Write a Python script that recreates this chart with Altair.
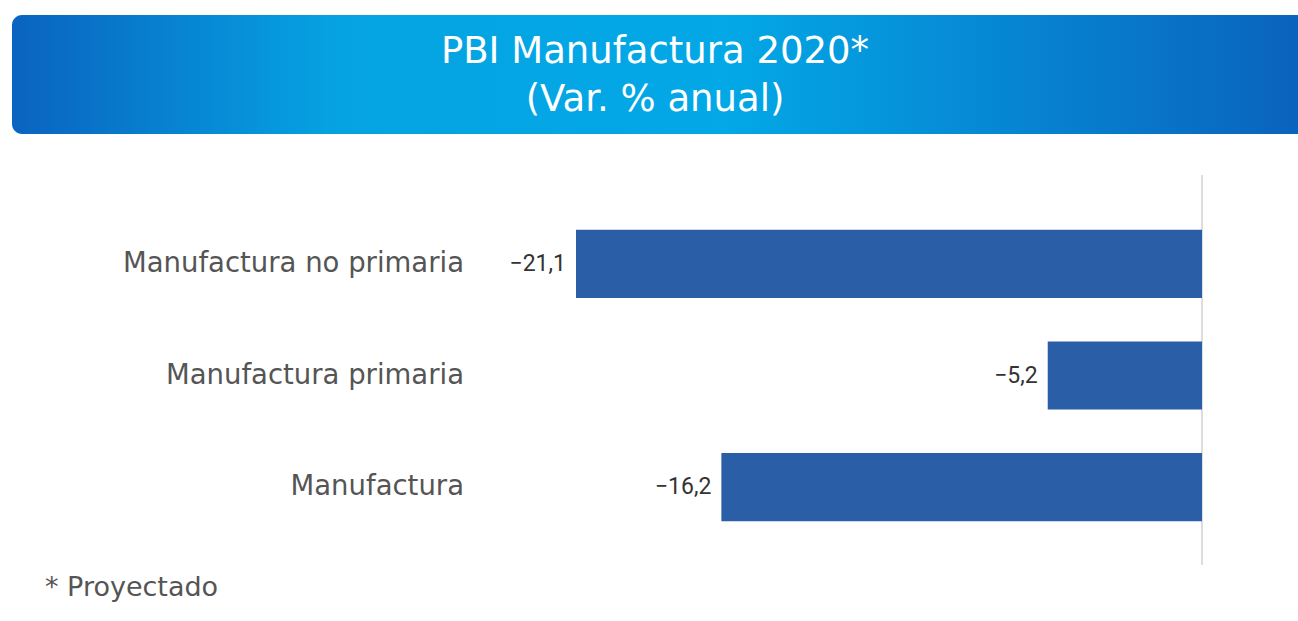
import altair as alt
import pandas as pd

categories = ["Manufactura no primaria", "Manufactura primaria", "Manufactura"]
values = [-21.1, -5.2, -16.2]
title_lines = ["PBI Manufactura 2020*", "(Var. % anual)"]
footnote = "* Proyectado"

df = pd.DataFrame({"cat": categories, "v": values})

FONT = "DejaVu Sans"
BAR = "#2a5fa8"

xs = alt.Scale(domain=[-21.1, 0], range=[576, 1202], nice=False, zero=False)
ys = alt.Scale(domain=categories, range=[208, 543], paddingInner=0.39, paddingOuter=0.195)

base = alt.Chart(df)

bars = base.mark_bar(color=BAR).encode(
    x=alt.X("v:Q", scale=xs, axis=None),
    x2=alt.datum(0),
    y=alt.Y("cat:N", scale=ys, axis=None, sort=categories),
)

vals = base.transform_calculate(
    lab="replace(format(datum.v, '.1f'), '.', ',')"
).mark_text(align="right", baseline="middle", dx=-10, font="Roboto", fontSize=23, color="#333333").encode(
    x=alt.X("v:Q", scale=xs, axis=None),
    y=alt.Y("cat:N", scale=ys, sort=categories, axis=None),
    text="lab:N",
)

cats = base.mark_text(align="right", baseline="middle", font=FONT, fontSize=27.5, color="#555555").encode(
    x=alt.value(464),
    y=alt.Y("cat:N", scale=ys, sort=categories, axis=None),
    text="cat:N",
)

zero = alt.Chart(pd.DataFrame({"z": [0.0]})).mark_rule(color="#dddddd", strokeWidth=2).encode(
    x=alt.X("z:Q", scale=xs, axis=None),
    y=alt.value(175),
    y2=alt.value(565),
)

one = pd.DataFrame({"t": [0]})
banner = alt.Chart(one).mark_rect(
    cornerRadius=10,
    fill=alt.Gradient(
        gradient="linear",
        x1=0, x2=1, y1=0, y2=0,
        stops=[
            alt.GradientStop(color="#0a63c0", offset=0),
            alt.GradientStop(color="#05a3e2", offset=0.25),
            alt.GradientStop(color="#03a8e6", offset=0.55),
            alt.GradientStop(color="#0a62bd", offset=1),
        ],
    ),
).encode(x=alt.value(12), x2=alt.value(1310), y=alt.value(15), y2=alt.value(134))

title = alt.Chart(pd.DataFrame({"line": ["\n".join(title_lines)]})).mark_text(
    align="center", baseline="middle", font=FONT, fontSize=37, color="white",
    lineBreak="\n", lineHeight=48, dy=-24,
).encode(x=alt.value(655), y=alt.value(76), text="line:N")

foot = alt.Chart(pd.DataFrame({"f": [footnote]})).mark_text(
    align="left", baseline="middle", font=FONT, fontSize=27, color="#555555"
).encode(x=alt.value(45), y=alt.value(588), text="f:N")

chart = alt.layer(banner, title, zero, bars, vals, cats, foot).properties(
    width=1298, height=621, autosize=alt.AutoSizeParams(type="none"), padding=0,
    background="white",
).configure_view(stroke=None)

chart.save("out.html", embed_options={"renderer": "svg", "actions": False})
